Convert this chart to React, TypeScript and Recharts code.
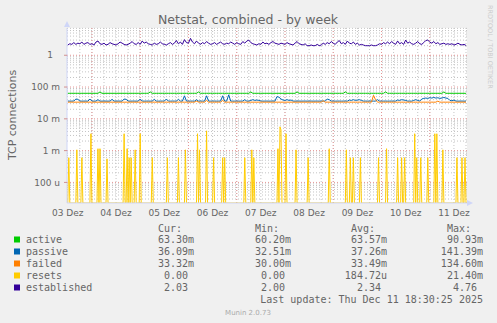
import { LineChart, Line, XAxis, YAxis, CartesianGrid } from "recharts";

// hourly samples, Dec 3 12:00 -> Dec 11 18:00 (hours since Dec 3 00:00)
const startHour = 12;

const established = [
  2.1, 2.3, 2.2, 2.5, 2.2, 2.4, 2.3, 2.6, 2.2, 2.4,
  2.5, 2.2, 2.3, 2.1, 2.6, 2.8, 2.3, 2.2, 2.4, 2.1,
  2.2, 2.5, 2.3, 2.2, 2.1, 2.3, 2.6, 2.4, 2.2, 2.1,
  2.2, 2.4, 2.7, 2.3, 2.2, 2.5, 2.2, 2.8, 2.4, 2.6,
  2.3, 2.2, 2.1, 2.4, 2.2, 2.3, 2.6, 2.3, 2.2, 2.1,
  2.3, 2.5, 2.2, 2.4, 2.9, 2.3, 2.6, 2.2, 3.1, 2.5,
  2.4, 3.4, 2.6, 2.3, 2.8, 2.4, 2.2, 2.5, 2.3, 2.7,
  2.4, 2.2, 2.3, 2.5, 2.2, 2.4, 2.6, 2.3, 2.2, 2.4,
  2.3, 2.6, 2.4, 2.2, 2.5, 2.3, 2.2, 2.7, 2.4, 2.8,
  3.0, 2.5, 2.3, 2.2, 2.1, 2.3, 2.2, 2.6, 2.3, 2.4,
  2.2, 2.5, 2.7, 2.4, 2.3, 2.2, 2.4, 2.3, 2.2, 2.5,
  2.3, 2.2, 2.1, 2.4, 2.7, 2.3, 2.2, 2.1, 2.3, 2.0,
  2.0, 2.1, 2.0, 2.0, 2.2, 2.0, 2.1, 2.4, 2.2, 2.5,
  2.3, 2.7, 2.4, 2.2, 2.6, 2.9, 2.3, 2.5, 2.2, 2.8,
  2.4, 2.3, 2.6, 2.2, 2.4, 2.1, 2.2, 2.1, 2.0, 2.0,
  2.0, 2.1, 2.0, 2.0, 2.1, 2.3, 2.2, 2.5, 2.3, 2.6,
  2.3, 2.7, 2.4, 2.2, 2.8, 2.3, 2.5, 2.2, 3.0, 2.4,
  2.6, 2.3, 2.2, 2.4, 2.7, 2.3, 2.2, 2.5, 2.9, 3.0,
  2.6, 2.4, 2.7, 2.3, 2.5, 2.2, 2.3, 2.4, 2.2, 2.3,
  2.2, 2.3, 2.1, 2.2, 2.4, 2.2, 2.1, 2.2, 2.03,
];

// milli-connections
const active = [
  63.6, 63.5, 63.6, 63.5, 63.6, 63.5, 63.6, 63.5, 63.6, 63.5, 63.6, 63.5, 63.6, 63.5, 63.6, 63.5, 70.0, 63.6, 63.5, 63.6,
  63.5, 63.6, 63.5, 63.6, 63.5, 63.6, 63.5, 63.6, 63.5, 63.6, 63.5, 63.6, 63.5, 63.6, 63.5, 63.6, 63.5, 63.6, 63.5, 63.6,
  63.5, 70.0, 63.5, 63.6, 63.5, 63.6, 63.5, 63.6, 63.5, 63.6, 63.5, 63.6, 63.5, 63.6, 63.5, 63.6, 63.5, 63.6, 63.5, 63.6,
  63.5, 63.6, 63.5, 63.6, 63.5, 70.0, 63.5, 63.6, 63.5, 63.6, 63.5, 63.6, 63.5, 63.6, 63.5, 63.6, 63.5, 63.6, 63.5, 63.6,
  63.5, 63.6, 63.5, 63.6, 63.5, 63.6, 63.5, 63.6, 63.5, 63.6, 63.5, 70.0, 63.5, 63.6, 63.5, 63.6, 63.5, 63.6, 63.5, 63.6,
  63.5, 63.6, 63.5, 63.6, 63.5, 63.6, 63.5, 63.6, 63.5, 63.6, 63.5, 63.6, 63.5, 63.6, 70.0, 63.6, 63.5, 63.6, 63.5, 63.6,
  63.5, 63.6, 63.5, 63.6, 63.5, 63.6, 63.5, 63.6, 63.5, 63.6, 63.5, 63.6, 63.5, 63.6, 63.5, 63.6, 63.5, 63.6, 70.0, 63.6,
  63.5, 63.6, 63.5, 63.6, 63.5, 63.6, 63.5, 63.6, 63.5, 63.6, 63.5, 63.6, 63.5, 63.6, 63.5, 63.6, 63.5, 63.6, 70.0, 63.6,
  63.5, 63.6, 63.5, 63.6, 63.5, 63.6, 63.5, 63.6, 63.5, 63.6, 63.5, 63.6, 63.5, 63.6, 63.5, 63.6, 63.5, 63.6, 63.5, 63.6,
  63.5, 63.6, 63.5, 63.6, 63.5, 63.6, 63.5, 70.0, 63.5, 63.6, 63.5, 63.6, 63.5, 63.6, 63.5, 63.6, 63.5, 63.6, 63.3,
];

const passive = [
  36.2, 36.0, 36.1, 36.3, 42.0, 41.0, 36.2, 36.0, 36.1, 36.2, 36.0, 42.0, 36.1, 36.0, 36.2, 40.0, 36.1, 36.0, 36.2, 36.1,
  36.0, 36.2, 41.0, 36.1, 36.0, 36.2, 36.1, 36.0, 42.0, 41.0, 36.2, 36.0, 36.1, 36.2, 36.0, 36.1, 42.0, 36.2, 36.0, 36.1,
  36.2, 36.0, 36.1, 41.0, 36.2, 36.0, 36.1, 36.2, 36.0, 42.0, 36.1, 36.0, 36.2, 36.1, 36.0, 41.0, 36.2, 36.1, 53.0, 36.2,
  36.0, 36.1, 36.2, 36.0, 40.0, 36.1, 36.2, 36.0, 36.1, 53.0, 36.2, 36.0, 36.1, 36.2, 36.0, 36.1, 36.2, 53.0, 36.0, 36.1,
  57.0, 36.2, 36.0, 36.1, 36.2, 36.0, 36.1, 36.2, 40.0, 36.1, 36.0, 38.0, 40.0, 38.0, 39.0, 38.0, 36.2, 36.0, 36.1, 36.2,
  36.0, 36.1, 36.2, 36.0, 50.0, 48.0, 42.0, 39.0, 38.0, 40.0, 38.0, 39.0, 36.2, 36.0, 36.1, 36.2, 36.0, 36.1, 36.2, 36.0,
  36.1, 36.2, 36.0, 36.1, 36.2, 36.0, 36.1, 36.2, 36.0, 42.0, 40.0, 36.1, 36.2, 36.0, 36.1, 36.2, 36.0, 36.1, 36.2, 36.0,
  39.0, 38.0, 40.0, 38.0, 39.0, 40.0, 38.0, 36.1, 36.2, 36.0, 36.1, 36.2, 36.0, 36.1, 40.0, 36.2, 36.0, 36.1, 36.2, 36.0,
  36.1, 36.2, 36.0, 36.1, 39.0, 38.0, 40.0, 39.0, 38.0, 36.1, 36.2, 36.0, 38.0, 40.0, 38.0, 36.1, 42.0, 44.0, 45.0, 44.0,
  46.0, 45.0, 47.0, 45.0, 46.0, 44.0, 45.0, 47.0, 45.0, 44.0, 38.0, 37.0, 39.0, 36.2, 36.0, 36.1, 36.2, 36.0, 36.09,
];

const failed = [
  33.4, 33.5, 33.4, 33.5, 33.4, 33.5, 33.4, 33.5, 33.4, 33.5, 33.4, 33.5, 33.4, 33.5, 33.4, 33.5, 33.4, 33.5, 33.4, 33.5,
  33.4, 33.5, 33.4, 33.5, 33.4, 33.5, 33.4, 33.5, 33.4, 33.5, 33.4, 33.5, 33.4, 33.5, 33.4, 33.5, 33.4, 33.5, 33.4, 33.5,
  33.4, 33.5, 33.4, 33.5, 33.4, 33.5, 33.4, 33.5, 33.4, 33.5, 33.4, 33.5, 33.4, 33.5, 33.4, 33.5, 33.4, 33.5, 33.4, 33.5,
  33.4, 33.5, 33.4, 33.5, 36.0, 33.5, 33.4, 33.5, 33.4, 38.0, 33.4, 33.5, 33.4, 33.5, 33.4, 33.5, 33.4, 38.0, 33.4, 33.5,
  33.4, 33.5, 33.4, 33.5, 33.4, 33.5, 33.4, 33.5, 33.4, 33.5, 33.4, 33.5, 33.4, 33.5, 33.4, 33.5, 33.4, 33.5, 33.4, 33.5,
  33.4, 33.5, 33.4, 33.5, 33.4, 33.5, 33.4, 33.5, 33.4, 33.5, 33.4, 33.5, 33.4, 33.5, 33.4, 33.5, 33.4, 33.5, 33.4, 33.5,
  33.4, 33.5, 33.4, 33.5, 33.4, 33.5, 33.4, 37.0, 33.4, 33.5, 33.4, 33.5, 33.4, 33.5, 33.4, 33.5, 33.4, 33.5, 33.4, 33.5,
  33.4, 33.5, 33.4, 33.5, 33.4, 33.5, 33.4, 33.5, 33.4, 33.5, 33.4, 33.5, 55.0, 40.0, 33.4, 33.5, 33.4, 33.5, 33.4, 33.5,
  33.4, 33.5, 33.4, 33.5, 33.4, 33.5, 33.4, 33.5, 33.4, 33.5, 33.4, 33.5, 33.4, 33.5, 33.4, 33.5, 33.4, 33.5, 33.4, 33.5,
  33.4, 33.5, 33.4, 33.5, 36.0, 33.5, 33.4, 33.5, 33.4, 33.5, 33.4, 33.5, 33.4, 33.5, 33.4, 33.5, 33.4, 33.5, 33.32,
];

// resets: half-hour samples from Dec 3 12:00, milli-resets per second
const resets = [
  0, 0.6, 0, 0, 0, 0, 0, 0, 0, 1.06, 0, 0, 0, 0, 0.6, 0, 0, 0, 0, 0,
  0, 0, 0, 3.4, 0, 0, 0, 0, 0, 0, 1.15, 0, 1.15, 0, 0, 0, 0, 0, 0, 0.55,
  0, 0, 0, 0, 0, 0, 0, 0, 0, 0, 0, 0, 0, 0, 0, 0, 3.4, 0, 0, 1.15,
  0, 0.6, 0, 0.6, 0, 0, 0, 1.06, 0, 0, 0, 0, 3.4, 0, 0, 0, 0, 0, 0, 0,
  0, 0, 0, 0, 0.6, 0, 0, 0, 0, 0, 0, 0, 0, 0, 0, 0, 0, 0, 0, 0.6,
  0, 0, 0, 0, 0, 0, 0, 0, 0, 0, 0.6, 0, 0, 0, 0, 0, 0, 1.06, 0, 0,
  0, 0, 0, 0, 0, 0, 0, 0, 0, 3.4, 0, 1.06, 0, 0, 0, 0, 0, 0, 4.2, 0,
  0, 0, 0, 0, 0, 0.6, 0, 0, 0, 0, 0, 0, 0, 0, 0.6, 0, 0.6, 0, 0, 0,
  0, 0, 0, 0, 0, 0, 0, 0, 0, 0, 0, 0, 0, 0, 0, 0, 0.6, 0, 0, 0,
  0, 0, 0, 1.06, 0, 0.6, 0, 0, 0, 0, 0, 0, 0, 0, 0, 0, 0, 0, 0, 0,
  0, 0, 0, 0, 0, 0, 0, 0, 0, 1.15, 0, 5.6, 4.5, 0, 0, 0, 0, 3.4, 0, 0,
  0, 0, 0, 0, 0, 0, 0, 1.06, 0, 0, 0, 0, 0, 0, 0, 0, 0, 0, 0, 0.6,
  0, 0, 0, 0, 0, 0, 0, 0, 0, 0, 0, 0, 0, 0, 0, 0, 0, 0, 0, 0,
  1.15, 0, 0, 0, 0, 0, 0, 0, 0, 0, 0, 0, 0, 0, 0, 0, 0, 1.06, 0, 0,
  0, 0.6, 0, 0, 0.6, 0, 0, 0, 0, 0, 0, 0.6, 0, 0, 0, 0, 0, 0, 0, 0,
  0, 0, 0, 0, 0, 0, 0, 0, 0, 0.6, 0, 0, 0, 0, 0, 0, 0, 1.15, 0, 0,
  0, 0, 0, 0, 0, 0, 0, 0, 0.6, 0, 0, 0, 0.6, 0, 0, 0.6, 0, 0, 0, 0,
  0, 0, 0, 0, 0, 3.4, 0, 0.6, 0, 0, 0, 0.6, 0, 0, 0, 0, 0, 0, 0.6, 0,
  0, 0, 0, 0, 0, 3.4, 0, 3.4, 0, 0, 0, 0, 0, 1.06, 0, 0, 0, 0, 0, 0,
  0, 0, 0, 0, 0, 0, 0, 0.6, 0, 0, 0, 0, 0.6, 0, 0, 0.6, 0, 0,
];

const dayTicks = [12, 36, 60, 84, 108, 132, 156, 180, 204];
const dayLabels = ["03 Dez", "04 Dez", "05 Dez", "06 Dez", "07 Dez", "08 Dez", "09 Dez", "10 Dez", "11 Dez"];
const yTicks = [1e-4, 1e-3, 1e-2, 1e-1, 1];
const yTickLabels = ["100 u", "1 m", "10 m", "100 m", "1"];

const legendNames = ["active", "passive", "failed", "resets", "established"];
const legendColors = ["#00CC00", "#0066B3", "#FF8000", "#FFCC00", "#330099"];
const curValues = ["63.30m", "36.09m", "33.32m", "0.00", "2.03"];
const minValues = ["60.20m", "32.51m", "30.00m", "0.00", "2.00"];
const avgValues = ["63.57m", "37.26m", "33.49m", "184.72u", "2.34"];
const maxValues = ["90.93m", "141.39m", "134.60m", "21.40m", "4.76"];

const yMin = 2.25e-5;
const yMax = 7.2;
const xMin = 11.6;
const xMax = 210.5;

const data = established.map((v, i) => ({
  h: startHour + i,
  active: active[i] / 1000,
  passive: passive[i] / 1000,
  failed: failed[i] / 1000,
  established: v,
}));

// zero is drawn along the bottom edge, as rrdtool does on a log axis
const resetsData = resets.map((v, j) => ({
  h: startHour + j / 2,
  resets: Math.max(v / 1000, yMin),
}));

// grid lines (rrdtool style)
const minorY: number[] = [];
for (let e = -5; e <= 0; e++) {
  for (let k = 2; k <= 9; k++) {
    const v = k * Math.pow(10, e);
    if (v > yMin && v < yMax) minorY.push(v);
  }
}
const minorX: number[] = [];
for (let h = 18; h < xMax; h += 6) minorX.push(h);
const majorX: number[] = [];
for (let h = 24; h < xMax; h += 24) majorX.push(h);

const FONT = "#666666";
const AXIS = "#CFD6F8";

const YTick = (props: any) => {
  const idx = yTicks.indexOf(props.payload.value);
  const label = yTickLabels[idx] ?? "";
  const hasUnit = label.includes(" ");
  return (
    <text x={hasUnit ? props.x : props.x - 7} y={props.y} dy={3.2} textAnchor="end"
      fontSize={9} fill={FONT} fontFamily="DejaVu Sans">
      {label}
    </text>
  );
};

const XTick = (props: any) => {
  const idx = dayTicks.indexOf(props.payload.value);
  return (
    <text x={props.x} y={props.y + 13} textAnchor="middle" fontSize={9} fill={FONT} fontFamily="DejaVu Sans">
      {dayLabels[idx]}
    </text>
  );
};

const colHead = [158, 255, 351, 447];
const colEnd = [194, 291, 387, 483];
const headers = ["Cur:", "Min:", "Avg:", "Max:"];

export default function App() {
  const cols = [curValues, minValues, avgValues, maxValues];
  return (
    <div style={{ position: "absolute", left: 0, top: 0, width: 497, height: 323, background: "#F0F0F0" }}>
      <div style={{ position: "absolute", left: 0, top: 0 }}>
        <LineChart width={497} height={323} data={data} margin={{ top: 28, right: 30, bottom: 100, left: 0 }}>
          <CartesianGrid fill="#ffffff" stroke="#c4c4c4" strokeDasharray="1 2"
            horizontalValues={minorY} verticalValues={minorX} />
          <CartesianGrid stroke="#e59696" strokeDasharray="1 2"
            horizontalValues={yTicks} verticalValues={majorX} />
          <XAxis type="number" dataKey="h" domain={[xMin, xMax]} ticks={dayTicks} allowDataOverflow
            height={20} tickSize={0} tickMargin={0} tick={<XTick />} stroke={AXIS} interval={0} />
          <YAxis type="number" scale="log" domain={[yMin, yMax]} allowDataOverflow ticks={yTicks}
            width={67} tickSize={3} tickMargin={4} tick={<YTick />} stroke={AXIS}
            tickLine={{ stroke: "#d09090" }} interval={0} />
          <Line dataKey="active" stroke="#00CC00" strokeWidth={1} dot={false} isAnimationActive={false} type="linear" />
          <Line dataKey="passive" stroke="#0066B3" strokeWidth={1} dot={false} isAnimationActive={false} type="linear" />
          <Line dataKey="failed" stroke="#FF8000" strokeWidth={1} dot={false} isAnimationActive={false} type="linear" />
          <Line data={resetsData} dataKey="resets" stroke="#FFCC00" strokeWidth={1} dot={false} isAnimationActive={false} type="linear" />
          <Line dataKey="established" stroke="#330099" strokeWidth={1} dot={false} isAnimationActive={false} type="linear" />
        </LineChart>
      </div>
      <svg width={497} height={323} style={{ position: "absolute", left: 0, top: 0, pointerEvents: "none" }}>
        <polygon points="64,27 70,27 67,21" fill={AXIS} />
        <polygon points="467,200 467,206 473,203" fill={AXIS} />
        <text x={248} y={23.5} textAnchor="middle" fontSize={12.5} fill={FONT} fontFamily="DejaVu Sans">
          Netstat, combined - by week
        </text>
        <text x={16} y={115} textAnchor="middle" fontSize={11} fill={FONT} fontFamily="DejaVu Sans"
          transform="rotate(-90 16 115)">
          TCP connections
        </text>
        <text x={487.5} y={5} fontSize={6.5} fill="#cccccc" fontFamily="DejaVu Sans"
          transform="rotate(90 487.5 5)">
          RRDTOOL / TOBI OETIKER
        </text>
        <g fontFamily="DejaVu Sans Mono" fontSize={10} fill={FONT}>
          {headers.map((h, i) => (
            <text key={h} x={colHead[i]} y={231.5}>{h}</text>
          ))}
          {legendNames.map((name, r) => {
            const cy = 239.5 + r * 12;
            return (
              <g key={name}>
                <rect x={14} y={cy - 3} width={6} height={6} fill={legendColors[r]} />
                <text x={26} y={cy + 3.5}>{name}</text>
                {cols.map((col, c) => {
                  const v = col[r];
                  const unit = /[a-z]$/.test(v);
                  return (
                    <text key={c} x={unit ? colEnd[c] : colEnd[c] - 6} y={cy + 3.5} textAnchor="end">{v}</text>
                  );
                })}
              </g>
            );
          })}
          <text x={483} y={303.2} textAnchor="end">Last update: Thu Dec 11 18:30:25 2025</text>
        </g>
        <text x={248} y={315} textAnchor="middle" fontSize={7} fill="#aaaaaa" fontFamily="DejaVu Sans">
          Munin 2.0.73
        </text>
      </svg>
    </div>
  );
}
